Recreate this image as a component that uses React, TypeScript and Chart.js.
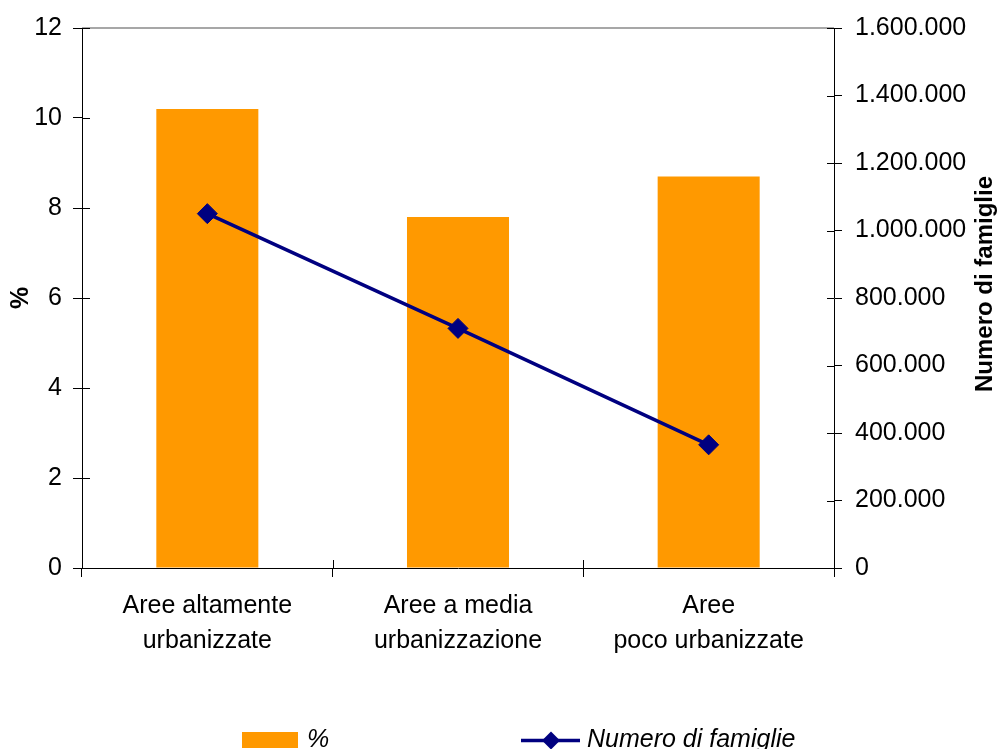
import React, { useEffect, useRef } from 'react';
import { Chart, registerables } from 'chart.js';

Chart.register(...registerables);

// ---- data ----
const categories: string[][] = [
  ['Aree altamente', 'urbanizzate'],
  ['Aree a media', 'urbanizzazione'],
  ['Aree', 'poco urbanizzate'],
];
const percentValues: number[] = [10.2, 7.8, 8.7];
const familyCounts: number[] = [1050000, 710000, 365000];
const seriesLabels: string[] = ['%', 'Numero di famiglie'];
const leftAxisTitle = '%';
const rightAxisTitle = 'Numero di famiglie';
const leftAxisRange = { min: 0, max: 12, step: 2 };
const rightAxisRange = { min: 0, max: 1600000, step: 200000 };

// ---- style ----
const FONT = '"Liberation Sans", Arial, Helvetica, sans-serif';
const ORANGE = '#FF9900';
const NAVY = '#000080';
const W = 998;
const H = 760;

function fmtThousands(v: number): string {
  return String(Math.round(v)).replace(/\B(?=(\d{3})+(?!\d))/g, '.');
}

const decorPlugin = {
  id: 'decor',
  afterDraw(chart: any) {
    const ctx: CanvasRenderingContext2D = chart.ctx;
    const area = chart.chartArea;
    const xs = chart.scales.x;
    const ys = chart.scales.y;
    const ys1 = chart.scales.y1;
    ctx.save();

    // top frame line (grey)
    ctx.strokeStyle = '#8a8a8a';
    ctx.lineWidth = 1.5;
    ctx.beginPath();
    ctx.moveTo(area.left, area.top);
    ctx.lineTo(area.right, area.top);
    ctx.stroke();

    // inner halves of crossing tick marks
    ctx.strokeStyle = '#000';
    ctx.lineWidth = 1;
    ctx.beginPath();
    ys.ticks.forEach((_t: any, i: number) => {
      const py = Math.round(ys.getPixelForTick(i)) + 0.5;
      ctx.moveTo(area.left, py);
      ctx.lineTo(area.left + 8, py);
    });
    ys1.ticks.forEach((_t: any, i: number) => {
      const py = Math.round(ys1.getPixelForTick(i)) + 0.5;
      ctx.moveTo(area.right - 7, py);
      ctx.lineTo(area.right, py);
    });
    for (let i = 0; i <= categories.length; i++) {
      const px = Math.round(xs.getPixelForValue(i - 0.5)) + 0.5;
      ctx.moveTo(px, area.bottom - 8);
      ctx.lineTo(px, area.bottom);
    }
    ctx.stroke();

    // axis titles
    ctx.fillStyle = '#000';
    ctx.textAlign = 'center';
    ctx.textBaseline = 'middle';
    ctx.font = `bold 25px ${FONT}`;
    ctx.save();
    ctx.translate(21, (area.top + area.bottom) / 2);
    ctx.rotate(-Math.PI / 2);
    ctx.fillText(leftAxisTitle, 0, 0);
    ctx.restore();

    ctx.font = `bold 24px ${FONT}`;
    ctx.save();
    ctx.translate(985, (area.top + area.bottom) / 2 - 14);
    ctx.rotate(-Math.PI / 2);
    ctx.fillText(rightAxisTitle, 0, 0);
    ctx.restore();

    // legend
    const ds = chart.data.datasets;
    const ly = 740;
    ctx.font = `italic 25px ${FONT}`;
    ctx.textAlign = 'left';
    ctx.textBaseline = 'middle';
    // bar item
    ctx.fillStyle = ds[0].backgroundColor;
    ctx.fillRect(242, 732, 56, 16);
    ctx.fillStyle = '#000';
    ctx.fillText(ds[0].label, 307, ly);
    // line item
    ctx.strokeStyle = ds[1].borderColor;
    ctx.lineWidth = 3.5;
    ctx.beginPath();
    ctx.moveTo(521, ly + 0.5);
    ctx.lineTo(580, ly + 0.5);
    ctx.stroke();
    ctx.fillStyle = ds[1].backgroundColor;
    ctx.beginPath();
    const cx = 551;
    const r = 9;
    ctx.moveTo(cx - r, ly + 0.5);
    ctx.lineTo(cx, ly + 0.5 - r);
    ctx.lineTo(cx + r, ly + 0.5);
    ctx.lineTo(cx, ly + 0.5 + r);
    ctx.closePath();
    ctx.fill();
    ctx.fillStyle = '#000';
    ctx.fillText(ds[1].label, 587, ly);

    ctx.restore();
  },
};

export default function App() {
  const canvasRef = useRef<HTMLCanvasElement | null>(null);

  useEffect(() => {
    if (!canvasRef.current) return;
    const tickFont = { family: FONT, size: 25 };
    const chart = new Chart(canvasRef.current, {
      type: 'bar',
      data: {
        labels: categories,
        datasets: [
          {
            type: 'bar',
            label: seriesLabels[0],
            data: percentValues,
            backgroundColor: ORANGE,
            borderWidth: 0,
            yAxisID: 'y',
            barPercentage: 0.407,
            categoryPercentage: 1,
            order: 2,
          } as any,
          {
            type: 'line',
            label: seriesLabels[1],
            data: familyCounts,
            borderColor: NAVY,
            backgroundColor: NAVY,
            borderWidth: 3.5,
            pointStyle: 'rectRot',
            pointRadius: 10,
            pointBorderWidth: 1,
            pointBackgroundColor: NAVY,
            pointBorderColor: NAVY,
            tension: 0,
            fill: false,
            yAxisID: 'y1',
            order: 1,
          } as any,
        ],
      },
      options: {
        responsive: false,
        animation: false,
        devicePixelRatio: 1,
        layout: { padding: { top: 28, left: 0, right: 0, bottom: 0 } },
        plugins: {
          legend: { display: false },
          tooltip: { enabled: false },
        },
        scales: {
          x: {
            type: 'category',
            position: 'bottom',
            grid: {
              display: true,
              drawOnChartArea: false,
              drawTicks: true,
              tickLength: 9,
              color: '#000',
              offset: true,
            },
            border: { display: true, color: '#000', width: 1 },
            ticks: {
              color: '#000',
              font: { ...tickFont, lineHeight: 1.4 },
              padding: 12,
              maxRotation: 0,
              autoSkip: false,
            },
            afterFit: (s: any) => {
              s.height = H - 568;
            },
          },
          y: {
            type: 'linear',
            position: 'left',
            min: leftAxisRange.min,
            max: leftAxisRange.max,
            grid: {
              display: true,
              drawOnChartArea: false,
              drawTicks: true,
              tickLength: 9,
              color: '#000',
            },
            border: { display: true, color: '#000', width: 1 },
            ticks: {
              stepSize: leftAxisRange.step,
              color: '#000',
              font: tickFont,
              padding: 11,
            },
            title: { display: false, text: leftAxisTitle },
            afterFit: (s: any) => {
              s.width = 82;
            },
          },
          y1: {
            type: 'linear',
            position: 'right',
            min: rightAxisRange.min,
            max: rightAxisRange.max,
            grid: {
              display: true,
              drawOnChartArea: false,
              drawTicks: true,
              tickLength: 8,
              color: '#000',
            },
            border: { display: true, color: '#000', width: 1 },
            ticks: {
              stepSize: rightAxisRange.step,
              color: '#000',
              font: tickFont,
              padding: 13,
              callback: (v: any) => fmtThousands(Number(v)),
            },
            title: { display: false, text: rightAxisTitle },
            afterFit: (s: any) => {
              s.width = W - 834;
            },
          },
        },
      } as any,
      plugins: [decorPlugin as any],
    });
    return () => chart.destroy();
  }, []);

  return (
    <div style={{ position: 'absolute', left: 0, top: 0, width: W, height: H, background: '#fff' }}>
      <canvas ref={canvasRef} width={W} height={H} style={{ display: 'block', width: W, height: H }} />
    </div>
  );
}
